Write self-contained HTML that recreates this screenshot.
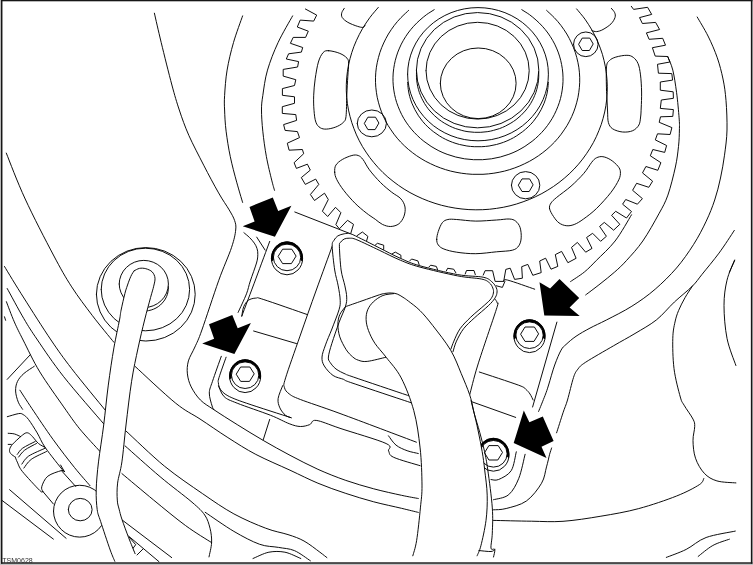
<!DOCTYPE html><html><head><meta charset="utf-8"><style>html,body{margin:0;padding:0;background:#fff}svg{display:block}</style></head><body>
<svg width="753" height="565" viewBox="0 0 753 565">
<rect width="753" height="565" fill="#fff"/>
<g fill="none" stroke="#000" stroke-width="0.95" stroke-linecap="round" stroke-linejoin="round">
<path d="M305.4 9 L316.7 15.1 L313.7 21.1 L300.2 20.1 L297.3 27 L308.3 31.2 L305.6 37.4 L293.2 37.4 L290.4 43.3 L302.7 47.5 L301.4 52.1 L288.6 53.8 L286.3 59 L298.6 61.6 L297.6 67 L283.2 69.4 L283.2 76.1 L295.8 79.7 L294.5 85.5 L282.4 88.6 L282.4 95.3 L294.5 96.8 L294.5 103.3 L282.3 106.7 L282.3 113.4 L295.8 114.6 L296.6 120.4 L283.6 124.6 L285.1 130.4 L297.4 131.6 L299.5 137.6 L287.3 143.2 L289.1 150.2 L302.4 149.5 L303.7 153.7 L294.1 162.7 L296.4 168.4 L307.4 164.2 L310.3 170.1 L301.3 177.6 L305.3 184.4 L315.7 179.1 L318.8 184.4 L310.4 194.5 L314.5 200.5 L324.5 193.2 L328.3 199.5 L322.4 211.2 L327.7 216.5 L335.5 207.3 L340.9 212.7 L335.9 224.6 L339.4 228.8 L347.5 220.3 L353.5 224.3 L350.7 233.6"/>
<path d="M357 235.7 L362.4 232 L367.9 236.4 L366.6 240.8"/>
<path d="M374.5 245.8 L377.4 243.3 L383.7 245.2 L383.7 249.5"/>
<path d="M392.1 253.9 L395.3 252.1 L400.9 255.2 L400.9 259"/>
<path d="M409.7 260.9 L411.6 259 L417.9 260.9 L419.1 264.6"/>
<path d="M428.8 267.1 L430.7 265.2 L436.3 266.4 L437.6 269.6"/>
<path d="M446.4 270.8 L447.6 268.3 L453.7 269.2 L455.8 272.7"/>
<path d="M465.2 274 L466.5 270.5 L474 270.5 L475.3 274.6"/>
<path d="M483.2 275.1 L485.1 270.7 L492.6 270.7 L495.1 281.4 L503.7 281.4 L505.8 269.4 L510.2 268.2 L514.6 279.4 L522.4 278.2 L521.7 266.7 L527.8 264.4 L532.8 275.3 L541.2 272.6 L539.7 261 L545.6 258.2 L551 269.2 L557.8 266.4 L555.3 254.6 L561.6 251.4 L567.9 262.7 L576.1 258.3 L571.5 247.4 L577.4 242.4 L585.7 252.2 L592 248.4 L586.6 237.5 L592.6 233.3 L600.6 241.3 L606.4 236.3 L599.6 226.4 L604.3 222.4 L613.6 230.2 L619.8 224.3 L611.6 215.3 L615.7 211.3 L626.5 218 L631.5 211.5 L622.6 204.2 L625.7 199.5 L637.4 204.2 L642.4 198.6 L632.6 190.3 L636.6 183.3 L648.8 187.3 L652.6 181.2 L642.5 172.9 L645.9 166.5 L657.8 170.3 L660.9 162.7 L650.3 155.8 L652.8 149.5 L664.7 152.4 L666.6 145.5 L655.3 139.9 L657.5 133.8 L670.1 134.5 L671.9 127.6 L659.2 122.3 L660.5 116.8 L672.8 116.4 L673.4 109.6 L660.3 108.4 L661.3 100 L673.4 98.3 L673.2 91.8 L660.3 90.2 L660.3 82 L672.6 80.1 L671.8 73.6 L658.4 73.2 L657.5 64.3 L669.9 62 L667.7 56.5 L655.2 56.1 L652.4 47.7 L665.5 45.2 L662.7 38.3 L649.1 39.3 L646.4 32.9 L659.6 29.5 L655.6 22.4 L642.4 23.5 L639.5 17.6 L651.7 14.4 L647.6 7.3 L633.6 9.4 L631.3 6.3"/>
<path d="M496.4 285.8 L502.4 287.4 L504.9 281.4"/>
<path d="M667.7 56.5 C668.6 58.8 671.3 64.1 672.8 70.1 C674.3 76.1 675.5 84.8 676.6 92.7 C677.7 100.7 678.6 111.6 679.1 117.8 C679.6 124 679.5 125.2 679.4 130 C679.3 134.8 679.2 140.2 678.5 146.4 C677.8 152.6 677.2 158.9 675.4 167 C673.6 175.1 670.6 187.3 667.9 195.1 C665.1 202.9 663.1 206.2 658.9 213.8 C654.7 221.5 648.2 233.2 642.8 241 C637.4 248.8 631.3 255.2 626.6 260.4 C621.9 265.6 619.1 268.1 614.7 272 C610.3 275.9 604.8 280.2 600 284 C595.2 287.8 588.1 293.1 585.7 294.9"/>
<path d="M631.5 214.8 C628.8 219.2 621 233.4 615.1 241 C609.2 248.6 601.5 255.2 596.4 260.4 C591.3 265.6 588.7 268.5 584.4 272 C580.1 275.5 572.9 279.9 570.6 281.5"/>
<path d="M440.3 83.3 a37.9 35.3 0 1 0 75.8 0 a37.9 35.3 0 1 0 -75.8 0"/>
<path d="M426 70.7 a51.6 48.4 0 1 0 103.2 0 a51.6 48.4 0 1 0 -103.2 0"/>
<path d="M416.4 70.2 a61.2 57.6 0 1 0 122.4 0 a61.2 57.6 0 1 0 -122.4 0"/>
<path d="M538.7 71.8 C538.7 72.8 538.8 75.8 538.7 77.8 C538.6 79.8 538.4 81.8 538 83.8 C537.7 85.8 537.3 87.8 536.7 89.7 C536.2 91.6 535.5 93.6 534.7 95.4 C534 97.3 533.1 99.2 532.1 100.9 C531.2 102.7 530.1 104.5 528.9 106.2 C527.8 107.9 526.5 109.5 525.2 111 C523.8 112.6 522.4 114.1 520.9 115.5 C519.4 116.9 517.8 118.3 516.1 119.6 C514.5 120.8 512.7 122 510.9 123.1 C509.1 124.2 507.3 125.2 505.4 126.1 C503.5 127 501.5 127.9 499.5 128.6 C497.5 129.3 495.5 129.9 493.4 130.4 C491.4 131 489.3 131.4 487.2 131.7 C485.1 132 482.9 132.2 480.8 132.3 C478.7 132.4 476.5 132.4 474.4 132.3 C472.3 132.2 470.1 132 468 131.7 C465.9 131.4 463.8 131 461.8 130.4 C459.7 129.9 457.7 129.3 455.7 128.6 C453.7 127.9 451.7 127 449.8 126.1 C447.9 125.2 446.1 124.2 444.3 123.1 C442.5 122 440.7 120.8 439.1 119.6 C437.4 118.3 435.8 116.9 434.3 115.5 C432.8 114.1 431.4 112.6 430 111 C428.7 109.5 427.4 107.9 426.3 106.2 C425.1 104.5 424 102.7 423.1 100.9 C422.1 99.2 421.2 97.3 420.5 95.4 C419.7 93.6 419 91.6 418.5 89.7 C417.9 87.8 417.5 85.8 417.2 83.8 C416.8 81.8 416.6 79.8 416.5 77.8 C416.4 75.8 416.5 72.8 416.5 71.8"/>
<path d="M407.6 74.2 a70.4 66.6 0 1 0 140.8 0 a70.4 66.6 0 1 0 -140.8 0"/>
<path d="M548.4 82.5 C548.2 83.7 548.1 87.2 547.7 89.5 C547.4 91.9 546.9 94.2 546.3 96.5 C545.7 98.7 544.9 101 544.1 103.2 C543.2 105.4 542.2 107.6 541.1 109.7 C540 111.8 538.8 113.8 537.5 115.8 C536.1 117.8 534.7 119.7 533.2 121.6 C531.6 123.4 530 125.2 528.2 126.9 C526.5 128.5 524.6 130.1 522.7 131.6 C520.8 133.1 518.8 134.5 516.7 135.8 C514.7 137.1 512.5 138.3 510.3 139.4 C508.1 140.5 505.8 141.4 503.5 142.3 C501.2 143.1 498.8 143.9 496.4 144.5 C494 145.1 491.6 145.6 489.1 146 C486.7 146.3 484.2 146.6 481.7 146.7 C479.2 146.8 476.8 146.8 474.3 146.7 C471.8 146.6 469.3 146.3 466.9 146 C464.4 145.6 462 145.1 459.6 144.5 C457.2 143.9 454.8 143.1 452.5 142.3 C450.2 141.4 447.9 140.5 445.7 139.4 C443.5 138.3 441.3 137.1 439.3 135.8 C437.2 134.5 435.2 133.1 433.3 131.6 C431.4 130.1 429.5 128.5 427.8 126.9 C426 125.2 424.4 123.4 422.8 121.6 C421.3 119.7 419.9 117.8 418.5 115.8 C417.2 113.8 416 111.8 414.9 109.7 C413.8 107.6 412.8 105.4 411.9 103.2 C411.1 101 410.3 98.7 409.7 96.5 C409.1 94.2 408.6 91.9 408.3 89.5 C407.9 87.2 407.8 83.7 407.6 82.5"/>
<path d="M521.8 9.7 C523 10.5 526.9 12.8 529.3 14.5 C531.6 16.3 534 18.1 536.1 20.1 C538.3 22 540.4 24.1 542.4 26.3 C544.3 28.4 546.2 30.7 547.9 33 C549.6 35.4 551.2 37.8 552.6 40.3 C554.1 42.8 555.4 45.4 556.5 48.1 C557.7 50.7 558.7 53.4 559.5 56.1 C560.4 58.9 561.1 61.7 561.6 64.5 C562.2 67.3 562.5 70.1 562.8 73 C563 75.8 563.1 78.7 563 81.6 C562.9 84.4 562.6 87.3 562.2 90.1 C561.8 92.9 561.2 95.8 560.5 98.5 C559.8 101.3 558.9 104 557.8 106.7 C556.8 109.4 555.6 112 554.3 114.6 C553 117.2 551.5 119.7 549.9 122.1 C548.3 124.5 546.6 126.8 544.7 129.1 C542.8 131.3 540.8 133.5 538.7 135.5 C536.6 137.6 534.4 139.5 532.1 141.3 C529.8 143.1 527.4 144.8 524.9 146.4 C522.3 148 519.7 149.4 517.1 150.8 C514.4 152.1 511.7 153.3 508.9 154.3 C506.1 155.3 503.2 156.2 500.3 157 C497.4 157.7 494.4 158.3 491.5 158.8 C488.5 159.2 485.5 159.5 482.5 159.7 C479.5 159.8 476.5 159.8 473.5 159.7 C470.5 159.5 467.5 159.2 464.5 158.8 C461.6 158.3 458.6 157.7 455.7 157 C452.8 156.2 449.9 155.3 447.1 154.3 C444.3 153.3 441.6 152.1 438.9 150.8 C436.3 149.4 433.7 148 431.1 146.4 C428.6 144.8 426.2 143.1 423.9 141.3 C421.6 139.5 419.4 137.6 417.3 135.5 C415.2 133.5 413.2 131.3 411.3 129.1 C409.4 126.8 407.7 124.5 406.1 122.1 C404.5 119.7 403 117.2 401.7 114.6 C400.4 112 399.2 109.4 398.2 106.7 C397.1 104 396.2 101.3 395.5 98.5 C394.8 95.8 394.2 92.9 393.8 90.1 C393.4 87.3 393.1 84.4 393 81.6 C392.9 78.7 393 75.8 393.2 73 C393.5 70.1 393.8 67.3 394.4 64.5 C394.9 61.7 395.6 58.9 396.5 56.1 C397.3 53.4 398.3 50.7 399.5 48.1 C400.6 45.4 401.9 42.8 403.4 40.3 C404.8 37.8 406.4 35.4 408.1 33 C409.8 30.7 411.7 28.4 413.6 26.3 C415.6 24.1 417.7 22 419.9 20.1 C422 18.1 424.4 16.3 426.7 14.5 C429.1 12.8 433 10.5 434.2 9.7"/>
<path d="M546.6 10.4 C547.8 11.6 551.8 15.1 554.2 17.6 C556.6 20.1 558.9 22.7 561 25.5 C563 28.2 565 31.1 566.8 34 C568.5 36.9 570.1 39.9 571.5 43 C573 46.1 574.2 49.3 575.3 52.5 C576.3 55.7 577.2 59 577.9 62.3 C578.6 65.5 579.1 68.9 579.4 72.2 C579.7 75.6 579.8 78.9 579.7 82.3 C579.6 85.6 579.3 89 578.8 92.3 C578.4 95.6 577.7 99 576.8 102.2 C576 105.5 574.9 108.7 573.7 111.9 C572.5 115 571.1 118.1 569.5 121.1 C567.9 124.2 566.2 127.1 564.2 129.9 C562.3 132.8 560.2 135.6 558 138.2 C555.8 140.8 553.4 143.4 550.8 145.8 C548.3 148.2 545.6 150.5 542.8 152.6 C540.1 154.7 537.1 156.8 534.1 158.6 C531.1 160.5 528 162.2 524.7 163.7 C521.5 165.3 518.2 166.7 514.8 167.9 C511.5 169.1 508 170.2 504.5 171.1 C501 171.9 497.4 172.7 493.9 173.2 C490.3 173.7 486.7 174.1 483 174.3 C479.4 174.4 475.8 174.4 472.2 174.3 C468.5 174.1 464.9 173.7 461.3 173.2 C457.8 172.7 454.2 171.9 450.7 171.1 C447.2 170.2 443.7 169.1 440.4 167.9 C437 166.7 433.7 165.3 430.5 163.7 C427.2 162.2 424.1 160.5 421.1 158.6 C418.1 156.8 415.1 154.7 412.4 152.6 C409.6 150.5 406.9 148.2 404.4 145.8 C401.8 143.4 399.4 140.8 397.2 138.2 C395 135.6 392.9 132.8 391 129.9 C389 127.1 387.3 124.2 385.7 121.1 C384.1 118.1 382.7 115 381.5 111.9 C380.3 108.7 379.2 105.5 378.4 102.2 C377.5 99 376.8 95.6 376.4 92.3 C375.9 89 375.6 85.6 375.5 82.3 C375.4 78.9 375.5 75.6 375.8 72.2 C376.1 68.9 376.6 65.5 377.3 62.3 C378 59 378.9 55.7 379.9 52.5 C381 49.3 382.2 46.1 383.7 43 C385.1 39.9 386.7 36.9 388.4 34 C390.2 31.1 392.2 28.2 394.2 25.5 C396.3 22.7 398.6 20.1 401 17.6 C403.4 15.1 407.4 11.6 408.6 10.4"/>
<path d="M576.6 8.9 C578 10.6 582.4 15.6 585 19.2 C587.5 22.8 589.9 26.5 592.1 30.3 C594.2 34.1 596.2 38.1 597.9 42.1 C599.6 46.1 601.1 50.2 602.4 54.3 C603.6 58.4 604.6 62.7 605.4 66.9 C606.2 71.2 606.7 75.5 607 79.8 C607.3 84.1 607.4 88.4 607.2 92.7 C607 97 606.6 101.4 605.9 105.6 C605.2 109.9 604.3 114.1 603.1 118.3 C602 122.5 600.6 126.6 598.9 130.6 C597.3 134.7 595.5 138.6 593.4 142.5 C591.3 146.3 589 150.1 586.5 153.7 C584 157.4 581.3 160.9 578.5 164.2 C575.6 167.6 572.5 170.8 569.2 173.9 C566 176.9 562.5 179.8 559 182.5 C555.4 185.3 551.6 187.8 547.8 190.1 C543.9 192.5 539.9 194.7 535.8 196.6 C531.7 198.6 527.4 200.3 523.1 201.8 C518.8 203.4 514.4 204.7 510 205.8 C505.5 206.9 501 207.8 496.4 208.4 C491.9 209.1 487.3 209.5 482.7 209.7 C478.1 209.9 473.5 209.8 468.9 209.6 C464.3 209.3 459.7 208.8 455.1 208.1 C450.6 207.4 446.1 206.4 441.6 205.3 C437.2 204.1 432.8 202.7 428.5 201.1 C424.3 199.5 420.1 197.7 416 195.7 C411.9 193.7 407.9 191.5 404.1 189.1 C400.3 186.7 396.6 184.1 393.1 181.3 C389.5 178.6 386.1 175.6 382.9 172.5 C379.7 169.4 376.7 166.1 373.9 162.7 C371 159.3 368.4 155.8 366 152.1 C363.5 148.5 361.3 144.7 359.3 140.8 C357.3 136.9 355.5 132.9 354 128.8 C352.4 124.8 351.1 120.6 350 116.4 C348.9 112.2 348 108 347.4 103.7 C346.8 99.4 346.5 95.1 346.3 90.8 C346.2 86.5 346.3 82.2 346.7 77.9 C347.1 73.6 347.7 69.3 348.5 65 C349.4 60.8 350.5 56.6 351.8 52.5 C353.1 48.3 354.7 44.3 356.5 40.3 C358.3 36.3 360.3 32.4 362.5 28.6 C364.7 24.9 367.2 21.2 369.8 17.6 C372.4 14.1 376.9 9.1 378.3 7.4"/>
<path d="M328.7 50.7 C331.5 50.8 336.8 52.1 339.8 53.4 C342.9 54.6 345.5 56.5 347 58.2 C348.5 59.9 348.5 60.7 348.6 63.7 C348.7 66.8 348.1 71.3 347.8 76.5 C347.5 81.7 347.1 88.3 346.8 95 C346.5 101.7 346.6 111.9 346 116.5 C345.4 121.1 344.7 121 342.9 122.8 C341.1 124.6 338 126.2 335.3 127.2 C332.6 128.2 329 129 326.5 129.1 C324 129.2 322.1 128.9 320.3 127.8 C318.5 126.7 316.9 125.1 315.9 122.2 C314.8 119.3 314.4 114.8 314 110.3 C313.6 105.8 313.5 100.5 313.7 95.2 C313.9 90 314.4 84.3 315.2 78.8 C316 73.3 317.1 66.4 318.4 62 C319.7 57.6 321.4 54.5 323.1 52.6 C324.8 50.7 325.9 50.6 328.7 50.7Z"/>
<path d="M344.3 8.3 C343.9 9 342.2 11.2 341.8 12.7 C341.4 14.2 341.2 15.9 342.2 17.5 C343.2 19.1 345.3 20.8 347.8 22.3 C350.3 23.8 354.9 25.5 357.4 26.3 C359.9 27.1 361.6 27.5 362.9 27.4 C364.2 27.3 364.6 25.8 365 25.5"/>
<path d="M334.7 172.2 C334.6 169.8 334.6 167.2 335.9 165.1 C337.2 163 339.6 161.1 342.3 159.5 C345 157.9 349.2 156.2 351.9 155.5 C354.5 154.8 356.3 154.8 358.2 155.5 C360.1 156.2 361.1 157.1 363 159.5 C364.9 161.9 366.5 166 369.4 169.8 C372.3 173.7 376.9 178.9 380.6 182.6 C384.3 186.3 388.3 189.5 391.7 192.2 C395.1 194.9 398.7 196.3 400.9 198.8 C403.1 201.3 404.5 204.1 405 207 C405.5 209.9 405 213.4 404 216.2 C403 219 401.1 222.1 398.9 223.8 C396.7 225.5 393.4 226.4 390.7 226.5 C387.9 226.6 385 225.6 382.4 224.4 C379.8 223.2 378 221.2 375.3 219.3 C372.6 217.4 369.6 215.6 366.2 212.9 C362.8 210.2 358.8 207 355.1 203.3 C351.4 199.6 347 194.6 343.9 190.6 C340.8 186.6 338.2 182.5 336.7 179.4 C335.2 176.3 334.8 174.6 334.7 172.2Z"/>
<path d="M436.7 239.4 C436.7 237.1 437.4 234.2 438.3 231.4 C439.2 228.6 440.7 224.7 442.3 222.7 C443.9 220.7 445.5 220 447.9 219.5 C450.3 219 452 219.2 456.7 219.5 C461.4 219.8 469.2 221 475.8 221.1 C482.4 221.2 490.9 220.3 496.5 220 C502.1 219.7 506 218.8 509.2 219 C512.4 219.2 513.8 219.7 515.6 221.1 C517.4 222.5 519.2 224.7 520.1 227.5 C521 230.3 521.4 234.8 521.2 237.8 C521 240.9 520.3 243.7 518.8 245.8 C517.3 247.9 516.1 249.2 512.4 250.2 C508.7 251.2 502.6 251.2 496.5 251.8 C490.4 252.4 482.4 253.6 475.8 253.7 C469.2 253.8 462 253 456.7 252.2 C451.4 251.4 447 250.2 443.9 249 C440.8 247.8 439.5 246.6 438.3 245 C437.1 243.4 436.7 241.7 436.7 239.4Z"/>
<path d="M549.5 208.5 C549.1 206.2 549.9 204.8 551.1 202.9 C552.3 201.1 553.4 200.2 556.7 197.4 C560 194.6 566.5 190.2 571 186.2 C575.5 182.2 580.2 177.5 583.7 173.5 C587.2 169.5 589.6 164.9 591.7 162.3 C593.8 159.7 594.6 158.7 596.5 157.8 C598.4 156.9 600.5 156.3 602.9 156.7 C605.3 157 608.3 158.3 610.8 159.9 C613.3 161.5 616.4 164.3 618 166.3 C619.6 168.3 620.3 169.7 620.4 171.9 C620.5 174.2 620.4 176.4 618.8 179.8 C617.2 183.2 614.5 187.8 610.8 192.6 C607.1 197.4 601 204.1 596.5 208.5 C592 212.9 587.4 216.2 583.7 218.9 C580 221.6 577.1 223.4 574.2 224.5 C571.3 225.6 568.7 226 566.2 225.7 C563.7 225.4 561.1 224.4 559 222.9 C556.9 221.4 555.1 218.9 553.5 216.5 C551.9 214.1 549.9 210.8 549.5 208.5Z"/>
<path d="M606.5 90 C606.4 84.5 606 71.8 606.5 66.9 C607 62 607.9 62.2 609.4 60.6 C610.9 59 612.9 58 615.8 57.1 C618.7 56.2 624 55.2 626.9 55.3 C629.8 55.3 631.4 56 633.3 57.4 C635.2 58.8 636.9 60.8 638.1 63.7 C639.3 66.6 639.9 70.2 640.5 74.9 C641.1 79.6 641.5 86.5 641.6 92 C641.7 97.5 641.4 103.8 641.2 108 C641 112.2 641 114.2 640.6 117 C640.2 119.8 640.2 122.7 638.9 125 C637.6 127.3 635.4 129.5 632.7 130.7 C630 131.9 626 132.3 622.6 132 C619.2 131.7 615 130.4 612.6 128.8 C610.2 127.2 609.2 125.3 608.4 122.5 C607.6 119.7 607.8 115.8 607.6 112 C607.4 108.2 607.2 103.7 607 100 C606.8 96.3 606.6 95.5 606.5 90Z"/>
<path d="M611.3 8.3 C611.9 9 614.1 11.2 614.7 12.7 C615.3 14.2 615.6 15.6 615 17.5 C614.4 19.4 613 21.9 611 23.9 C609 25.9 605.4 28.2 603 29.5 C600.6 30.8 598.6 31.4 596.7 31.6 C594.9 31.8 592.7 30.8 591.9 30.6"/>
<path d="M573.5 44.3 a12.3 12.3 0 1 0 24.6 0 a12.3 12.3 0 1 0 -24.6 0"/>
<path d="M593 44.3 L589.4 50.5 L582.2 50.5 L578.6 44.3 L582.2 38.1 L589.4 38.1Z"/>
<path d="M511.4 185.2 a14.2 13.6 0 1 0 28.4 0 a14.2 13.6 0 1 0 -28.4 0"/>
<path d="M532.9 185.2 L529.2 191.5 L522 191.5 L518.3 185.2 L522 178.9 L529.2 178.9Z"/>
<path d="M357.2 123.4 a14.6 13.4 0 1 0 29.2 0 a14.6 13.4 0 1 0 -29.2 0"/>
<path d="M378.7 123.4 L375.1 129.6 L367.9 129.6 L364.3 123.4 L367.9 117.2 L375.1 117.2Z"/>
<path d="M154.4 13.2 C155.5 18.1 158.3 30.5 161.2 42.5 C164.1 54.5 168.9 73.8 171.9 85 C174.9 96.2 176.5 101.6 179.3 110 C182.1 118.4 184.8 126.3 188.9 135.5 C193 144.7 198.8 155.6 203.7 165.2 C208.6 174.8 214.3 185.4 218.6 192.9 C222.8 200.4 226.5 205.3 229.2 209.9 C231.9 214.5 233.5 217.2 234.6 220.5 C235.7 223.8 236.2 225.5 235.7 230 C235.2 234.5 234.4 238.8 231.6 247.3 C228.8 255.8 223.5 267 218.6 280.8 C213.7 294.6 205.8 319 201.9 330 C198 341 197.2 341.9 194.9 347 C192.7 352.1 189.7 356.4 188.4 360.9 C187.2 365.4 186.9 369.6 187.4 373.9 C187.9 378.2 189 382.5 191.2 386.9 C193.4 391.2 196.6 396.2 200.4 400 C204.2 403.8 207.8 405.6 213.9 409.7 C220 413.8 229 419.5 237.2 424.6 C245.4 429.7 254.4 435.3 263.2 440.4 C272 445.5 280.9 450.5 290 455.3 C299.1 460.1 308.6 465.1 317.9 469.3 C327.2 473.5 336.5 477.1 345.8 480.4 C355.1 483.6 364.4 486.3 373.7 488.8 C383 491.3 394.1 493.7 401.5 495.3 C408.9 496.9 415.5 498 418.3 498.5"/>
<path d="M242.6 15.9 C241.1 20.3 236.1 33.5 233.5 42.5 C230.9 51.5 228.6 61.2 227.1 70.1 C225.6 78.9 225 88.9 224.6 95.6 C224.2 102.2 224.3 104.1 224.6 110 C224.8 115.9 225.1 123.4 226.1 131.2 C227.1 139 228.5 148.2 230.3 156.7 C232.1 165.2 234.6 174.6 236.7 182.2 C238.8 189.8 241.6 199 242.6 202.4"/>
<path d="M292.6 15.9 C290.2 20.3 282.3 33.5 278.1 42.5 C273.9 51.5 270.1 61.2 267.5 70.1 C264.9 78.9 263.8 88.9 262.8 95.6 C261.8 102.2 261.5 104.1 261.5 110 C261.5 115.9 262 123.4 262.8 131.2 C263.6 139 264.9 148.5 266.4 156.7 C267.9 164.8 270.3 174.5 271.7 180.1 C273.1 185.7 274 188.6 274.5 190.3"/>
<path d="M697.2 17 C699 20.2 704.6 29.2 708 36 C711.4 42.8 714.8 50.6 717.3 57.8 C719.8 65 721.5 71.9 723 79 C724.5 86.1 725.3 92 726 100.5 C726.7 109 727.2 120.9 727 130 C726.8 139.1 725.6 147.2 724.5 155.2 C723.4 163.2 722.1 170.5 720.5 178 C718.9 185.5 717.1 192.8 714.7 200 C712.3 207.2 709.7 213.8 706.2 221.2 C702.7 228.6 698.5 236.8 693.5 244.6 C688.5 252.4 682.9 260.6 676.5 268 C670.1 275.4 662.6 282.8 655.2 289.2 C647.8 295.6 640 301.1 631.9 306.2 C623.8 311.3 613.4 316.4 606.4 320 C599.4 323.6 595.1 325.4 590 328.1 C584.9 330.8 580 333.6 576 336.3 C572 339 568.5 342.2 566 344.5 C563.5 346.8 563 346.7 561.1 350.1 C559.2 353.5 556.8 359.2 554.7 365 C552.6 370.8 550.2 379.9 548.6 385 C547 390.1 546.7 391.1 545 395.5 C543.3 399.9 539.7 408.8 538.6 411.4"/>
<path d="M734.3 230.4 C731.8 234.2 724.4 245.8 719 253.1 C713.6 260.4 706.4 268.9 702 274.4 C697.6 279.9 697 281.5 692.4 286.1 C687.8 290.7 680.4 296.4 674.4 302 C668.4 307.6 662.9 314.8 656.3 320 C649.7 325.2 642.1 329.2 635 333.5 C627.9 337.8 621.7 341 613.5 345.8 C605.3 350.6 591.6 358.3 585.7 362.2 C579.8 366.1 580 366.4 578 369 C576 371.6 575.2 372.3 573.5 377.5 C571.8 382.7 569.2 394.1 567.5 400 C565.8 405.9 564.8 407.3 563 412.8 C561.2 418.3 557.7 429.5 556.6 432.8"/>
<path d="M551.6 448 C551.3 449.1 550.5 451.2 549.6 454.3 C548.8 457.4 547.9 462.1 546.5 466.9 C545.1 471.7 544.9 477.6 541.5 483.3 C538.1 489 532.3 496.8 526.4 501 C520.5 505.2 511.7 507 506.2 508.5 C500.7 510 495.6 509.6 493.5 509.8"/>
<path d="M525.1 454.3 C524 458.3 521.5 471.6 518.8 478.3 C516.1 485 512.9 491.1 508.7 494.7 C504.5 498.3 496 498.9 493.5 499.7"/>
<path d="M516.3 451.8 C515.4 454.9 514.1 466.1 511.2 470.7 C508.2 475.3 502 478 498.6 479.5 C495.2 481 492.3 479.5 491 479.5"/>
<path d="M734.6 260.7 L729.5 272"/>
<path d="M692.4 286.1 C691.2 288 687.3 293.6 685 297.7 C682.7 301.8 680.3 306.4 678.6 310.5 C676.9 314.6 676 317.4 675 322 C674 326.6 673 330.6 672.8 338.3 C672.6 346.1 672.8 358.7 674 368.5 C675.2 378.3 678.6 390.9 680.3 397 C682 403.1 682 401.5 684.1 405.2 C686.2 408.9 691.2 415.5 693 419.1 C694.8 422.7 694.7 423 694.7 426.6 C694.7 430.2 692.9 435.2 693 440.5 C693.1 445.8 693.6 452.7 695.5 458.2 C697.4 463.7 700.7 469.5 704.3 473.3 C707.9 477.1 711.6 479.3 716.9 480.9 C722.2 482.5 732.7 482.6 735.9 482.9"/>
<path d="M734.6 260 C733.3 263.4 728.8 272.6 727 280.2 C725.2 287.8 724 295.8 724 305.5 C724 315.2 725 328.3 727 338.3 C729 348.3 734.4 361 735.9 365.5"/>
<path d="M703.8 478.4 C703 479.4 703.8 481.8 699.3 484.7 C694.8 487.6 686.7 492 676.6 496 C666.5 500 651.3 505.2 638.7 508.6 C626.1 512 613.5 514.1 600.9 516.2 C588.3 518.3 574.6 520.5 563 521.3 C551.4 522.1 543 521.4 531.4 521.2 C519.8 521.1 499.8 520.5 493.5 520.4"/>
<path d="M666.3 557.4 C669.6 556.1 679.6 552.7 686.2 549.4 C692.8 546.1 697.9 540.5 706.1 537.5 C714.3 534.5 730.4 532.2 735.3 531.1"/>
<path d="M698.2 556.4 C700.6 554.6 707.6 548.4 712.8 545.5 C718 542.6 726.6 540.2 729.4 539.2"/>
<path d="M294.8 212 L350.6 233.8"/>
<path d="M503.7 281.4 C504.4 281.2 502.5 278.8 507.7 280.1 C512.9 281.4 530.2 287.7 534.7 289.2"/>
<path d="M243.9 232.7 C244.8 233.5 247.8 235.8 249.5 237.5 C251.2 239.2 253.1 241.3 254.3 243.1 C255.6 244.9 256.4 246.6 257 248.5 C257.6 250.4 257.9 252 257.8 254.4 C257.7 256.8 257.8 258.6 256.5 263 C255.2 267.4 252 275.9 250.3 281 C248.6 286.1 248.5 288.6 246.5 293.8 C244.5 299 239.5 309.3 238.1 312.4"/>
<path d="M269.7 241.4 C267.4 247.7 260.4 266.4 255.8 278.9 C251.2 291.3 244.1 309.9 241.8 316.1"/>
<path d="M256.7 237.1 L265.1 250.1"/>
<path d="M241.8 316.1 C242.1 314.6 242.6 309.4 243.7 306.8 C244.8 304.2 246.3 301.8 248.3 300.3 C250.3 298.9 253.3 298.2 255.8 298.1 C258.3 298 254.6 296.6 263.2 299.4 C271.8 302.1 300 312.1 307.4 314.6"/>
<path d="M253.6 331 L296.5 343.6"/>
<path d="M332.2 246.2 C329.6 253.5 321.7 275 316.3 290 C310.9 305 305.1 321.5 300 336.1 C294.9 350.8 288.2 369.3 285.6 377.9 C283 386.4 283.8 384.7 284.4 387.4 C285 390.1 286.5 391.9 289.2 393.9 C291.9 395.9 291.9 396.2 300.4 399.5 C308.9 402.8 320.7 406.4 340 413.5 C359.3 420.6 403.7 437.4 416.4 442.2"/>
<path d="M221.3 356.3 C219.8 360.5 214.5 375.2 212.5 381.3 C210.5 387.4 209.4 388.9 209.3 393 C209.2 397.1 211.3 403.2 212.1 406 C212.9 408.8 213.6 409.1 213.9 409.7"/>
<path d="M226.1 357.2 C224.9 360.6 220.3 373.3 219 377.6 C217.7 381.9 218.2 381.1 218.4 383 C218.6 384.9 218.8 387.2 220.4 389.3 C222 391.4 223.6 393.5 227.9 395.8 C232.2 398.1 236 399.6 246.5 403.2 C257 406.8 283.7 415.3 291.1 417.7"/>
<path d="M218.6 386 C219.5 387.8 221.1 393.8 224.2 396.7 C227.3 399.6 229.5 400.1 237.2 403.2 C244.9 406.3 261.9 411.9 270.6 415.3 C279.3 418.7 284.2 421.8 289.2 423.7 C294.2 425.6 297 426.4 300.4 426.5 C303.8 426.6 307.1 425.6 309.7 424.6 C312.3 423.6 311.1 419.8 316.2 420.4 C321.2 421 328.4 424.4 340 428.3 C351.6 432.2 378 439.7 386.1 443.5 C394.2 447.3 387.3 448.7 388.6 451 C389.9 453.3 388.4 454.9 393.7 457.3 C398.9 459.8 415.7 464.3 420.1 465.7"/>
<path d="M282.7 385.6 C281.9 387.8 278.6 394.9 278.1 398.6 C277.6 402.3 278.7 405.1 279.9 407.9 C281.1 410.7 283.6 413.7 285.5 415.3 C287.4 416.9 290.2 417.3 291.1 417.7"/>
<path d="M269.7 419.4 L263.2 439.9"/>
<path d="M135.3 366.6 C142 372.7 164.9 394.5 175.7 403.2 C186.5 411.9 191.3 413.3 200 419 C208.7 424.7 218.6 431.7 227.9 437.6 C237.2 443.5 245.5 449 255.8 454.4 C266.2 459.8 279.6 465.4 290 470.2 C300.4 475 308.6 479.3 317.9 483.2 C327.2 487.1 336.5 490.3 345.8 493.4 C355.1 496.5 364.4 499.3 373.7 501.8 C383 504.3 394.1 506.5 401.5 508.3 C408.9 510.1 415.5 511.7 418.3 512.4"/>
<path d="M388.5 435.8 C389.8 437.4 392.9 442.6 396 445.1 C399.1 447.6 403.4 449.3 407.1 450.7 C410.8 452.1 416.4 453 418.3 453.5"/>
<path d="M494.6 298.6 C495.1 299.4 497 301.3 497.3 303.1 C497.6 304.9 499.6 298.9 496.4 309.2 C493.1 319.5 482.2 350.8 477.8 365 C473.4 379.2 471.1 389.8 469.7 394.7"/>
<path d="M556.9 322.1 L532.6 407"/>
<path d="M479.3 372 C485.9 374.2 510.8 382.3 518.6 385.2 C526.4 388.1 524.1 388 526 389.5 C527.9 391 528.8 392.2 530 394 C531.2 395.8 532.6 399 533.1 400"/>
<path d="M471.1 401.5 L515.7 417.4"/>
<path d="M273.3 257.4 a13.7 13.3 0 1 0 27.4 0 a13.7 13.3 0 1 0 -27.4 0"/>
<path d="M271.4 258.3 a15.6 16.5 0 1 0 31.2 0 a15.6 16.5 0 1 0 -31.2 0"/>
<path d="M271.4 261.8 L271.2 260.3 L271.1 258.8 L271.1 257.3 L271.3 255.8 L271.5 254.4 L271.9 252.9 L272.4 251.5 L273.1 250.2 L273.8 248.9 L274.6 247.7 L275.6 246.6 L276.6 245.6 L277.7 244.7 L278.9 243.8 L280.2 243.1 L281.5 242.6 L282.8 242.1 L284.2 241.8 L285.6 241.6 L287 241.5 L288.4 241.6 L289.8 241.8 L291.2 242.1 L292.5 242.6 L293.8 243.1 L295.1 243.8 L296.3 244.7 L297.4 245.6 L298.4 246.6 L299.4 247.7 L300.2 248.9 L300.9 250.2 L301.6 251.5 L302.1 252.9 L302.5 254.4 L302.7 255.8 L302.9 257.3 L302.9 258.8 L302.8 260.3 L302.6 261.8 L300.3 260.1 L300.5 259 L300.6 257.8 L300.6 256.6 L300.5 255.5 L300.2 254.3 L299.9 253.2 L299.5 252.1 L298.9 251 L298.3 250 L297.6 249.1 L296.8 248.2 L295.9 247.4 L294.9 246.7 L293.9 246 L292.9 245.5 L291.7 245 L290.6 244.7 L289.4 244.4 L288.2 244.3 L287 244.2 L285.8 244.3 L284.6 244.4 L283.4 244.7 L282.3 245 L281.1 245.5 L280.1 246 L279.1 246.7 L278.1 247.4 L277.2 248.2 L276.4 249.1 L275.7 250 L275.1 251 L274.5 252.1 L274.1 253.2 L273.8 254.3 L273.5 255.5 L273.4 256.6 L273.4 257.8 L273.5 259 L273.7 260.1Z" fill="#000" stroke="none"/>
<path d="M295.9 256.4 L291.4 263.6 L282.6 263.6 L278.1 256.4 L282.6 249.2 L291.4 249.2Z"/>
<path d="M231.4 375.2 a13.7 13.3 0 1 0 27.4 0 a13.7 13.3 0 1 0 -27.4 0"/>
<path d="M229.5 376.1 a15.6 16.5 0 1 0 31.2 0 a15.6 16.5 0 1 0 -31.2 0"/>
<path d="M229.5 379.6 L229.3 378.1 L229.2 376.6 L229.2 375.1 L229.4 373.6 L229.6 372.2 L230 370.7 L230.5 369.3 L231.2 368 L231.9 366.7 L232.7 365.5 L233.7 364.4 L234.7 363.4 L235.8 362.5 L237 361.6 L238.3 360.9 L239.6 360.4 L240.9 359.9 L242.3 359.6 L243.7 359.4 L245.1 359.3 L246.5 359.4 L247.9 359.6 L249.3 359.9 L250.6 360.4 L251.9 360.9 L253.2 361.6 L254.4 362.5 L255.5 363.4 L256.5 364.4 L257.5 365.5 L258.3 366.7 L259 368 L259.7 369.3 L260.2 370.7 L260.6 372.2 L260.8 373.6 L261 375.1 L261 376.6 L260.9 378.1 L260.7 379.6 L258.4 377.9 L258.6 376.8 L258.7 375.6 L258.7 374.4 L258.6 373.3 L258.3 372.1 L258 371 L257.6 369.9 L257 368.8 L256.4 367.8 L255.7 366.9 L254.9 366 L254 365.2 L253 364.5 L252 363.8 L251 363.3 L249.8 362.8 L248.7 362.5 L247.5 362.2 L246.3 362.1 L245.1 362 L243.9 362.1 L242.7 362.2 L241.5 362.5 L240.4 362.8 L239.2 363.3 L238.2 363.8 L237.2 364.5 L236.2 365.2 L235.3 366 L234.5 366.9 L233.8 367.8 L233.2 368.8 L232.6 369.9 L232.2 371 L231.9 372.1 L231.6 373.3 L231.5 374.4 L231.5 375.6 L231.6 376.8 L231.8 377.9Z" fill="#000" stroke="none"/>
<path d="M254 374.2 L249.5 381.4 L240.7 381.4 L236.2 374.2 L240.6 367 L249.5 367Z"/>
<path d="M515.8 335.2 a13.7 13.3 0 1 0 27.4 0 a13.7 13.3 0 1 0 -27.4 0"/>
<path d="M513.9 336.1 a15.6 16.5 0 1 0 31.2 0 a15.6 16.5 0 1 0 -31.2 0"/>
<path d="M513.9 339.6 L513.7 338.1 L513.6 336.6 L513.6 335.1 L513.8 333.6 L514 332.2 L514.4 330.7 L514.9 329.3 L515.6 328 L516.3 326.7 L517.1 325.5 L518.1 324.4 L519.1 323.4 L520.2 322.5 L521.4 321.6 L522.7 320.9 L524 320.4 L525.3 319.9 L526.7 319.6 L528.1 319.4 L529.5 319.3 L530.9 319.4 L532.3 319.6 L533.7 319.9 L535 320.4 L536.3 320.9 L537.6 321.6 L538.8 322.5 L539.9 323.4 L540.9 324.4 L541.9 325.5 L542.7 326.7 L543.4 328 L544.1 329.3 L544.6 330.7 L545 332.2 L545.2 333.6 L545.4 335.1 L545.4 336.6 L545.3 338.1 L545.1 339.6 L542.8 337.9 L543 336.8 L543.1 335.6 L543.1 334.4 L543 333.3 L542.7 332.1 L542.4 331 L542 329.9 L541.4 328.8 L540.8 327.8 L540.1 326.9 L539.3 326 L538.4 325.2 L537.4 324.5 L536.4 323.8 L535.4 323.3 L534.2 322.8 L533.1 322.5 L531.9 322.2 L530.7 322.1 L529.5 322 L528.3 322.1 L527.1 322.2 L525.9 322.5 L524.8 322.8 L523.6 323.3 L522.6 323.8 L521.6 324.5 L520.6 325.2 L519.7 326 L518.9 326.9 L518.2 327.8 L517.6 328.8 L517 329.9 L516.6 331 L516.3 332.1 L516 333.3 L515.9 334.4 L515.9 335.6 L516 336.8 L516.2 337.9Z" fill="#000" stroke="none"/>
<path d="M538.4 334.2 L534 341.4 L525 341.4 L520.6 334.2 L525 327 L534 327Z"/>
<path d="M479.7 453.8 a13.7 13.3 0 1 0 27.4 0 a13.7 13.3 0 1 0 -27.4 0"/>
<path d="M477.8 454.7 a15.6 16.5 0 1 0 31.2 0 a15.6 16.5 0 1 0 -31.2 0"/>
<path d="M477.8 458.2 L477.6 456.7 L477.5 455.2 L477.5 453.7 L477.7 452.2 L477.9 450.8 L478.3 449.3 L478.8 447.9 L479.5 446.6 L480.2 445.3 L481 444.1 L482 443 L483 442 L484.1 441.1 L485.3 440.2 L486.6 439.5 L487.9 439 L489.2 438.5 L490.6 438.2 L492 438 L493.4 437.9 L494.8 438 L496.2 438.2 L497.6 438.5 L498.9 439 L500.2 439.5 L501.5 440.2 L502.7 441.1 L503.8 442 L504.8 443 L505.8 444.1 L506.6 445.3 L507.3 446.6 L508 447.9 L508.5 449.3 L508.9 450.8 L509.1 452.2 L509.3 453.7 L509.3 455.2 L509.2 456.7 L509 458.2 L506.7 456.5 L506.9 455.4 L507 454.2 L507 453 L506.9 451.9 L506.6 450.7 L506.3 449.6 L505.9 448.5 L505.3 447.4 L504.7 446.4 L504 445.5 L503.2 444.6 L502.3 443.8 L501.3 443.1 L500.3 442.4 L499.3 441.9 L498.1 441.4 L497 441.1 L495.8 440.8 L494.6 440.7 L493.4 440.6 L492.2 440.7 L491 440.8 L489.8 441.1 L488.7 441.4 L487.5 441.9 L486.5 442.4 L485.5 443.1 L484.5 443.8 L483.6 444.6 L482.8 445.5 L482.1 446.4 L481.5 447.4 L480.9 448.5 L480.5 449.6 L480.2 450.7 L479.9 451.9 L479.8 453 L479.8 454.2 L479.9 455.4 L480.1 456.5Z" fill="#000" stroke="none"/>
<path d="M502.3 452.8 L497.8 460 L488.9 460 L484.5 452.8 L488.9 445.6 L497.8 445.6Z"/>
<path d="M416 404.4 C413.5 403.6 412 403 401.1 399.4 C390.2 395.8 360.3 385.8 350.7 382.5 C341.1 379.2 346.6 380.6 343.7 379.4 C340.8 378.2 336.3 377.7 333.1 375.5 C329.9 373.3 326.2 369.1 324.3 366 C322.4 362.9 321.8 360.5 322 357 C322.2 353.5 323.9 349.6 325.5 344.9 C327.1 340.2 329.6 334.9 331.9 329 C334.1 323.1 337.6 314.6 339 309.8 C340.4 305 340.3 304.3 340.2 300.3 C340.1 296.3 339.1 290.9 338.2 285.9 C337.3 280.8 335.7 276.6 334.7 270 C333.7 263.4 332.3 251.1 332.2 246.2 C332.1 241.3 332.9 242.3 333.8 240.6 C334.7 238.9 336.1 237 337.8 235.9 C339.5 234.8 342.1 234.2 344.2 233.8 C346.3 233.5 347.7 232.9 350.6 233.8 C353.5 234.7 356.9 236.7 361.7 239 C366.5 241.3 372.8 244.6 379.2 247.8 C385.6 251 393.5 255.3 400.3 258.3 C407.1 261.3 410.4 263.1 420 265.8 C429.6 268.5 447.2 272.7 457.7 274.6 C468.2 276.5 477.4 276 483.1 277.2 C488.8 278.4 489.7 280 491.9 281.8 C494.1 283.6 495.6 286.1 496.4 288 C497.2 289.9 497.2 291.5 496.9 293.3 C496.6 295.1 496 296.5 494.6 298.6 C493.2 300.7 491.8 302.4 488.4 305.7 C485 308.9 478.3 314.3 474.2 318.1 C470.1 321.9 466.6 324.9 463.6 328.7 C460.7 332.5 458.3 337.3 456.5 341.1 C454.7 344.9 453.6 349.9 453 351.7 L416 404.4" fill="#fff" stroke="none"/>
<path d="M416 404.4 C413.5 403.6 412 403 401.1 399.4 C390.2 395.8 360.3 385.8 350.7 382.5 C341.1 379.2 346.6 380.6 343.7 379.4 C340.8 378.2 336.3 377.7 333.1 375.5 C329.9 373.3 326.2 369.1 324.3 366 C322.4 362.9 321.8 360.5 322 357 C322.2 353.5 323.9 349.6 325.5 344.9 C327.1 340.2 329.6 334.9 331.9 329 C334.1 323.1 337.6 314.6 339 309.8 C340.4 305 340.3 304.3 340.2 300.3 C340.1 296.3 339.1 290.9 338.2 285.9 C337.3 280.8 335.7 276.6 334.7 270 C333.7 263.4 332.3 251.1 332.2 246.2 C332.1 241.3 332.9 242.3 333.8 240.6 C334.7 238.9 336.1 237 337.8 235.9 C339.5 234.8 342.1 234.2 344.2 233.8 C346.3 233.5 347.7 232.9 350.6 233.8 C353.5 234.7 356.9 236.7 361.7 239 C366.5 241.3 372.8 244.6 379.2 247.8 C385.6 251 393.5 255.3 400.3 258.3 C407.1 261.3 410.4 263.1 420 265.8 C429.6 268.5 447.2 272.7 457.7 274.6 C468.2 276.5 477.4 276 483.1 277.2 C488.8 278.4 489.7 280 491.9 281.8 C494.1 283.6 495.6 286.1 496.4 288 C497.2 289.9 497.2 291.5 496.9 293.3 C496.6 295.1 496 296.5 494.6 298.6 C493.2 300.7 491.8 302.4 488.4 305.7 C485 308.9 478.3 314.3 474.2 318.1 C470.1 321.9 466.6 324.9 463.6 328.7 C460.7 332.5 458.3 337.3 456.5 341.1 C454.7 344.9 453.6 349.9 453 351.7"/>
<path d="M416 398.2 C414.6 397.7 417.9 398.8 407.5 395.3 C397.1 391.8 363.7 380.6 353.3 377 C342.9 373.4 348.2 375.3 345.3 374 C342.4 372.7 338.5 370.9 336 369 C333.5 367.1 331.5 364.5 330.2 362.5 C328.9 360.5 328.1 360.2 328.4 357 C328.7 353.8 330.1 349 331.9 343.3 C333.7 337.6 336.8 328.7 339 322.6 C341.2 316.5 344.1 310.9 345.4 306.7 C346.7 302.4 346.8 300.6 346.7 297.1 C346.6 293.6 345.8 290.4 344.9 285.9 C344 281.4 342 276.6 341.1 270 C340.2 263.4 339.5 250.8 339.4 246.2 C339.3 241.6 339.9 243.4 340.7 242.2 C341.5 241 342.7 239.7 344.2 239 C345.7 238.3 347.7 238.1 349.8 238.2 C351.9 238.3 352 237.8 356.9 239.8 C361.8 241.8 372 246.8 379.2 250.2 C386.4 253.6 393.5 257.4 400.3 260.2 C407.1 263 410.4 264.5 420 267.1 C429.6 269.7 447.5 273.9 457.7 275.9 C467.9 277.9 476 277.9 481.3 279 C486.6 280.1 487.4 281.2 489.3 282.7 C491.2 284.2 492.1 286.3 492.8 288 C493.5 289.7 493.7 291.2 493.4 293 C493.1 294.8 492.5 296.6 491.1 298.6 C489.7 300.6 488.3 301.7 484.9 304.8 C481.5 307.9 474.8 313.2 470.7 317.2 C466.6 321.2 462.9 324.7 460.1 328.7 C457.3 332.7 455.4 337.7 453.9 341.1 C452.4 344.5 451.4 347.8 450.9 349.1"/>
<path d="M345.4 306.7 C344.5 308 341.1 311.7 339.8 314.6 C338.6 317.5 337.9 320.5 337.9 324.2 C337.9 327.9 338.4 332.6 339.8 336.9 C341.2 341.1 344.1 346.4 346.2 349.7 C348.3 353 350.6 355.1 352.6 356.8 C354.6 358.6 355.9 359.4 358.3 360.2 C360.7 361 362.6 361.9 367.2 361.4 C371.8 360.9 383 357.9 386.1 357.2"/>
<path d="M394 293.6 C392.1 293.9 386.3 294.1 382.9 295.5 C379.4 296.9 375.8 299.5 373.3 301.9 C370.8 304.3 368.9 306.9 367.7 309.8 C366.5 312.7 366 315.9 366.1 319.4 C366.2 322.9 367 326.6 368.5 330.6 C370 334.6 372 338.9 374.9 343.3 C377.8 347.7 381.7 351.4 386.1 357.2 C390.5 363 396.6 369 401.2 377.9 C405.8 386.8 410.6 399 413.8 410.7 C417 422.4 418.7 435.5 420.1 447.9 C421.5 460.3 421.9 475.1 422 485.1 C422.1 495.1 421.3 498.6 420.4 507.9 C419.5 517.2 417.9 532.7 416.6 540.7 C415.3 548.7 413.4 553.3 412.8 555.8 L477.1 555.8 C477.7 554.1 479.4 551.6 480.9 545.7 C482.4 539.8 484.9 528.9 486 520.5 C487.1 512.1 487.4 503.6 487.2 495.2 C487 486.8 485.5 477.2 484.7 470 C483.9 462.8 483.3 458.2 482.2 451.7 C481.1 445.2 479.6 437.9 478.2 431 C476.8 424.1 474.9 416.4 473.5 410.3 C472.1 404.2 471.6 400.4 469.5 394.3 C467.4 388.2 464.3 380.9 461.2 373.5 C458.1 366.1 455.3 358.1 450.6 350.1 C445.9 342.1 437.9 332.2 432.8 325.6 C427.7 319 424.1 314.7 420 310.6 C415.9 306.5 412.2 303.9 408.4 301.1 C404.6 298.3 399.1 295.1 397.2 293.9Z" fill="#fff" stroke="none"/>
<path d="M394 293.6 C392.1 293.9 386.3 294.1 382.9 295.5 C379.4 296.9 375.8 299.5 373.3 301.9 C370.8 304.3 368.9 306.9 367.7 309.8 C366.5 312.7 366 315.9 366.1 319.4 C366.2 322.9 367 326.6 368.5 330.6 C370 334.6 372 338.9 374.9 343.3 C377.8 347.7 381.7 351.4 386.1 357.2 C390.5 363 396.6 369 401.2 377.9 C405.8 386.8 410.6 399 413.8 410.7 C417 422.4 418.7 435.5 420.1 447.9 C421.5 460.3 421.9 475.1 422 485.1 C422.1 495.1 421.3 498.6 420.4 507.9 C419.5 517.2 417.9 532.7 416.6 540.7 C415.3 548.7 413.4 553.3 412.8 555.8"/>
<path d="M345.4 306.7 C348.2 305.7 356.3 302.9 362 300.9 C367.7 298.9 375.7 296 379.7 294.7 C383.7 293.4 384 293.6 386 293.3 C388 293 389.6 292.9 391.5 293 C393.4 293.1 395.3 293.3 397.2 294 C399.1 294.7 401.1 296.1 403 297.3 C404.9 298.5 405.6 298.9 408.4 301.1 C411.2 303.3 415.9 306.5 420 310.6 C424.1 314.7 427.7 319 432.8 325.6 C437.9 332.2 445.9 342.1 450.6 350.1 C455.3 358.1 458.1 366.1 461.2 373.5 C464.3 380.9 467.4 388.2 469.5 394.3 C471.6 400.4 472.1 404.2 473.5 410.3 C474.9 416.4 476.8 424.1 478.2 431 C479.6 437.9 481.1 445.2 482.2 451.7 C483.3 458.2 483.9 462.8 484.7 470 C485.5 477.2 487 486.8 487.2 495.2 C487.4 503.6 487.1 512.1 486 520.5 C484.9 528.9 482.4 539.8 480.9 545.7 C479.4 551.6 477.7 554.1 477.1 555.8"/>
<path d="M471.1 400.7 C471.6 402.8 472.8 408.1 474.2 413.4 C475.6 418.7 478.1 426.2 479.8 432.6 C481.5 439 483.3 445.5 484.6 451.7 C485.9 457.9 486.5 460.6 487.8 470 C489.1 479.4 491.6 497.4 492.3 507.9 C493.1 518.4 492.5 526.4 492.3 533.1 C492.1 539.8 490.6 545.5 491 548.2 C491.4 550.9 494.4 548 494.8 549.5 C495.2 551 493.7 555.8 493.5 557"/>
<path d="M478.9 550.5 C480.9 550.7 488.4 551.7 491 551.5 C493.6 551.3 494.2 549.8 494.8 549.5"/>
<path d="M6.3 153.1 C9.4 160.8 17.3 182 25.2 199 C33 216 45.6 240.3 53.4 255 C61.1 269.6 65.2 276.8 71.7 286.9 C78.2 297 85.4 306.4 92.4 315.6 C99.4 324.8 110.3 337.9 113.9 342.3"/>
<path d="M4.5 266.5 C7.7 271.8 16.1 285.8 23.9 298 C31.6 310.2 43 328.2 51 340 C59 351.8 62.7 357 71.7 368.7 C80.7 380.4 99.6 403.2 105.2 410.1"/>
<path d="M7.2 288.5 C10 293.5 18.8 310.1 23.9 318.7 C28.9 327.3 30.9 330.3 37.5 340 C44.1 349.7 52.7 362.8 63.7 376.7 C74.7 390.6 96.9 415.9 103.6 423.7"/>
<path d="M6.4 301.7 C7.7 305.1 11.5 315.5 14.3 321.9 C17.1 328.3 18.9 331.7 23.1 340 C27.4 348.3 33 360.8 39.8 371.9 C46.6 383 57.1 397.4 63.7 406.9 C70.4 416.4 73.7 421.5 79.7 428.9 C85.8 436.3 96.6 447.7 100 451.5"/>
<path d="M4.5 316.8 L5.6 320.3"/>
<path d="M30.3 354.7 L7.2 379.4"/>
<path d="M34.3 366.3 C32.6 367.5 26.7 371 23.9 373.5 C21.1 376 18.9 378.5 17.5 381.4 C16.1 384.3 15.5 387.5 15.6 391 C15.7 394.5 17.1 399.1 18.3 402.2 C19.5 405.2 21.9 408.1 22.6 409.3"/>
<path d="M19.9 390.2 C21.9 393.2 26.4 400.3 31.9 408.5 C37.4 416.7 46 429.7 53.1 439.5 C60.2 449.3 68.2 459.7 74.4 467.4 C80.6 475.1 87.4 482.6 90 485.7"/>
<path d="M7.3 416.7 C9.2 416.2 16 414 18.6 413.6 C21.2 413.2 21.5 413.6 23.2 414.6 C24.9 415.6 26.3 416.6 28.6 419.6 C30.9 422.7 34.4 428.2 37.2 432.9 C40 437.5 40.8 441.1 45.2 447.5 C49.6 453.9 60.6 467.4 63.7 471.4"/>
<path d="M60.6 465 L64.5 471.7"/>
<path d="M8.2 433.3 C9.3 433.4 12.5 433.4 14.6 434 C16.7 434.6 19.6 436.2 20.6 436.6"/>
<path d="M20.6 436.6 C21.4 436 23.9 433.8 25.2 433.2 C26.5 432.6 27.4 432.6 28.6 433.2 C29.8 433.8 30.9 434.9 32.5 436.6 C34.1 438.3 36.4 441.7 38.5 443.5 C40.6 445.3 44.1 446.8 45.2 447.5"/>
<path d="M20.6 436.6 C19.3 437.9 14.4 442.1 12.6 444.2 C10.8 446.3 9.9 447.9 9.6 449.5 C9.3 451.1 9.6 452.2 10.6 453.5 C11.6 454.8 14.5 456.5 15.3 457.1"/>
<path d="M8.2 444.4 L11.3 444.4"/>
<path d="M17.3 454.4 C18.2 453.4 19.6 450.3 22.6 448.2 C25.6 446.1 33.1 442.6 35.2 441.5"/>
<path d="M18.6 457.1 C19.6 456 21.6 452.5 24.6 450.2 C27.6 447.9 34.5 444.6 36.5 443.5"/>
<path d="M21.9 464.1 C23 462.8 24.7 458.8 28.6 456.1 C32.5 453.5 42.4 449.5 45.2 448.2"/>
<path d="M23.9 468.1 C25.1 466.7 27.4 462.2 31.2 459.4 C35 456.6 44 452.8 46.5 451.5"/>
<path d="M15.3 457.1 C15.6 457.9 16.1 459.7 17.3 462.1 C18.5 464.5 18.6 466.7 22.3 471.4 C26.1 476.1 36.4 487.2 39.8 490.5 C43.2 493.8 42.2 491.2 42.7 491.3"/>
<path d="M42.7 491.3 C42.6 490.5 40.9 489 41.8 486.5 C42.6 484 44.5 478.8 47.8 476.2 C51.1 473.6 58.6 471.4 61.4 470.6 C64.2 469.9 64 471.5 64.5 471.7"/>
<path d="M42.7 491.3 L53.4 504"/>
<path d="M61.4 470.6 L75.7 486.5"/>
<path d="M53.5 511.2 a26.2 25.9 0 1 0 52.4 0 a26.2 25.9 0 1 0 -52.4 0"/>
<path d="M68.3 509.6 a11.9 11.2 0 1 0 23.8 0 a11.9 11.2 0 1 0 -23.8 0"/>
<path d="M9.6 489.7 L66.1 538.3"/>
<path d="M1.6 500.1 L53.4 539.1"/>
<path d="M96.4 294.3 a49.4 46.7 0 1 0 98.8 0 a49.4 46.7 0 1 0 -98.8 0"/>
<path d="M101.2 289.5 a44.2 41.3 0 1 0 88.4 0 a44.2 41.3 0 1 0 -88.4 0"/>
<path d="M119.2 284 a24.6 23.6 0 1 0 49.2 0 a24.6 23.6 0 1 0 -49.2 0"/>
<path d="M168.4 286.7 C168.4 287.1 168.4 288.4 168.3 289.2 C168.3 290.1 168.2 290.9 168 291.8 C167.8 292.6 167.6 293.4 167.4 294.3 C167.1 295.1 166.8 295.9 166.5 296.7 C166.1 297.5 165.7 298.2 165.3 299 C164.9 299.7 164.4 300.4 163.9 301.1 C163.4 301.8 162.8 302.5 162.2 303.1 C161.6 303.8 161 304.4 160.4 305 C159.7 305.5 159 306.1 158.3 306.6 C157.6 307.1 156.8 307.5 156 308 C155.3 308.4 154.5 308.8 153.7 309.1 C152.9 309.5 152 309.8 151.2 310 C150.3 310.3 149.5 310.5 148.6 310.6 C147.7 310.8 146.4 311 145.9 311"/>
<path d="M126.1 431.1 C132.5 436.9 151.7 455.7 164.4 466.1 C177.2 476.5 191 485.7 202.6 493.7 C214.2 501.7 223.4 508.1 233.9 513.9 C244.4 519.6 256.7 524.8 265.7 528.2 C274.7 531.7 281.6 532.5 288 534.6 C294.4 536.7 298.7 538.1 304 541 C309.3 543.9 316.1 549.4 319.9 552.2 C323.7 555 325.7 556.7 326.9 557.6"/>
<path d="M125.1 445.9 C130.9 451 148.9 467.3 160.1 476.7 C171.2 486.1 184.6 495.8 192 502.2 C199.4 508.6 201.7 510.7 204.7 515 C207.7 519.3 208.8 523.6 210 528.2 C211.2 532.8 211.8 537.8 211.6 542.6 C211.4 547.4 209.4 554.5 209 556.9"/>
<path d="M121.9 473.6 C127.2 478 143.1 491.4 153.7 500.1 C164.3 508.8 175.9 518.5 185.6 525.6 C195.2 532.7 207.3 539.8 211.6 542.6"/>
<path d="M121.9 519.8 L171.7 557.6"/>
<path d="M128.7 536.2 L159 561.7"/>
<path d="M205.2 512.3 C210 515.5 224.9 526.1 233.9 531.4 C242.9 536.7 252 541.5 259.4 544.2 C266.8 546.9 272.7 546.3 278.5 547.4 C284.3 548.5 289.1 548.4 294.4 550.6 C299.7 552.8 307.7 559.1 310.4 560.8"/>
<path d="M253 558.5 C255.7 557.5 263.6 553.2 268.9 552.2 C274.2 551.2 279.6 551.2 284.9 552.2 C290.2 553.2 298.1 557.5 300.8 558.5"/>
<path d="M129.3 537.3 L135.7 544.7 L132.5 549 L134 552"/>
<path d="M137 555 L143 549"/>
<path d="M134.2 270.8 C133.8 271.4 132.5 273.1 131.8 274.4 C131.1 275.7 130.6 276.9 129.8 278.8 C129 280.7 128 283.6 127.2 286 C126.4 288.4 125.9 289.5 124.9 293.5 C123.9 297.5 122 305.7 121.1 310.1 C120.2 314.5 120.7 313.7 119.5 320 C118.3 326.3 115.8 337 113.9 347.9 C112 358.8 110 372.2 108.3 385.1 C106.6 398 105.3 412.2 103.7 425 C102.1 437.8 99.8 451.1 98.5 461.9 C97.2 472.7 96.4 482.1 96.2 490 C96 497.9 96.5 504.4 97.2 509.6 C97.9 514.8 98.4 514.7 100.6 521.4 C102.8 528.1 107.8 543.4 110.2 550 C112.6 556.6 114 559.4 114.8 561.3 L135.1 553.7 C134 551.1 130.9 543.5 128.7 537.8 C126.5 532 123.5 524 121.9 519.2 C120.3 514.4 119.9 512.3 119.1 509.1 C118.3 505.9 117.5 504.4 117.3 500.1 C117 495.8 116.8 489.5 117.6 483.1 C118.4 476.7 120.5 471.6 121.9 461.9 C123.3 452.2 124.4 438.4 126 425 C127.6 411.6 129.6 394.2 131.6 381.3 C133.6 368.4 135.9 358.1 138.1 347.9 C140.3 337.7 142.5 328.4 144.6 320 C146.7 311.6 149.1 303 150.6 297.4 C152.1 291.8 153 289.4 153.7 286.2 C154.4 283 155.2 280.6 155 278.2 C154.8 275.8 153.7 273.5 152.2 271.9 C150.7 270.3 147.9 269.3 145.8 268.7 C143.7 268.1 141.3 268 139.4 268.4 C137.5 268.8 135.1 270.4 134.2 270.8Z" fill="#fff" stroke="none"/>
<path d="M134.2 270.8 C133.8 271.4 132.5 273.1 131.8 274.4 C131.1 275.7 130.6 276.9 129.8 278.8 C129 280.7 128 283.6 127.2 286 C126.4 288.4 125.9 289.5 124.9 293.5 C123.9 297.5 122 305.7 121.1 310.1 C120.2 314.5 120.7 313.7 119.5 320 C118.3 326.3 115.8 337 113.9 347.9 C112 358.8 110 372.2 108.3 385.1 C106.6 398 105.3 412.2 103.7 425 C102.1 437.8 99.8 451.1 98.5 461.9 C97.2 472.7 96.4 482.1 96.2 490 C96 497.9 96.5 504.4 97.2 509.6 C97.9 514.8 98.4 514.7 100.6 521.4 C102.8 528.1 107.8 543.4 110.2 550 C112.6 556.6 114 559.4 114.8 561.3"/>
<path d="M134.2 270.8 C135.1 270.4 137.5 268.8 139.4 268.4 C141.3 268 143.7 268.1 145.8 268.7 C147.9 269.3 150.7 270.3 152.2 271.9 C153.7 273.5 154.8 275.8 155 278.2 C155.2 280.6 154.4 283 153.7 286.2 C153 289.4 152.1 291.8 150.6 297.4 C149.1 303 146.7 311.6 144.6 320 C142.5 328.4 140.3 337.7 138.1 347.9 C135.9 358.1 133.6 368.4 131.6 381.3 C129.6 394.2 127.6 411.6 126 425 C124.4 438.4 123.3 452.2 121.9 461.9 C120.5 471.6 118.4 476.7 117.6 483.1 C116.8 489.5 117 495.8 117.3 500.1 C117.5 504.4 118.3 505.9 119.1 509.1 C119.9 512.3 120.3 514.4 121.9 519.2 C123.5 524 126.5 532 128.7 537.8 C130.9 543.5 134 551.1 135.1 553.7"/>
</g>
<rect x="0" y="0" width="1" height="565" fill="#b8b8b8"/><rect x="0" y="563.7" width="753" height="1.3" fill="#c2c2c2"/><rect x="752.4" y="0" width="0.6" height="565" fill="#c8c8c8"/><rect x="1" y="0" width="751.4" height="1.3" fill="#161616"/><rect x="1" y="0" width="1.45" height="563.7" fill="#161616"/><rect x="750.85" y="0" width="1.55" height="563.7" fill="#161616"/><rect x="1" y="562.3" width="751.4" height="1.45" fill="#161616"/><text x="2.3" y="562.7" style="filter:grayscale(1)" font-family="Liberation Sans, sans-serif" font-size="6.4" fill="#333" textLength="30.4" lengthAdjust="spacingAndGlyphs">TSM0628</text><polygon points="249.5,206.9 272.8,197.6 278.2,210.9 291.4,205.8 274.9,236.7 242.7,226.2 254.6,221.4" fill="#000" stroke="#fff" stroke-width="1.6" paint-order="stroke"/><polygon points="209.0,324.2 232.3,314.9 237.7,328.2 250.9,323.1 234.4,354.0 202.2,343.5 214.1,338.7" fill="#000" stroke="#fff" stroke-width="1.6" paint-order="stroke"/><polygon points="539.5,282.2 550.1,288.5 559.5,278.9 579.2,297.9 569.6,307.4 579.7,316.0 544.3,315.5" fill="#000" stroke="#fff" stroke-width="1.6" paint-order="stroke"/><polygon points="523.8,410.6 529.4,422.3 542.8,416.4 553.6,440.9 541.5,446.7 546.5,458.1 513.7,442.9" fill="#000" stroke="#fff" stroke-width="1.6" paint-order="stroke"/>
</svg></body></html>
